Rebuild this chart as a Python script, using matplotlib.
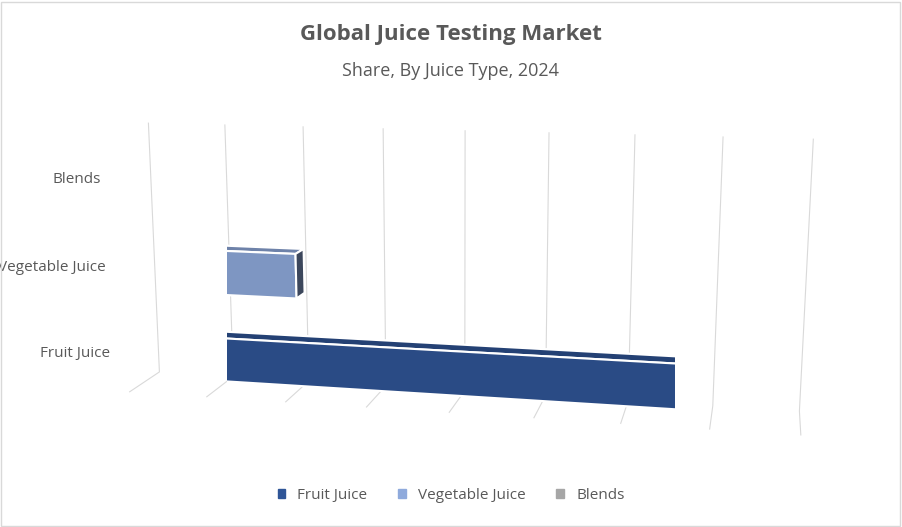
import matplotlib.pyplot as plt
import numpy as np

categories = ["Fruit Juice", "Vegetable Juice", "Blends"]
shares = [61, 19, 10]
colors = ["#2f5597", "#8faadc", "#a6a6a6"]

plt.rcParams["font.family"] = ["Open Sans", "DejaVu Sans"]
fig = plt.figure(figsize=(9.02, 5.27), dpi=100)
fig.patches.append(plt.Rectangle((0.001, 0.002), 0.997, 0.995, transform=fig.transFigure,
                                 fill=False, edgecolor="#d9d9d9", linewidth=1))
fig.text(0.5, 0.925, "Global Juice Testing Market", ha="center", fontsize=16,
         fontweight="bold", color="#595959")
fig.text(0.5, 0.855, "Share, By Juice Type, 2024", ha="center", fontsize=13, color="#595959")

ax = fig.add_axes([0.0, 0.05, 1.0, 0.85], projection="3d")
ax.set_proj_type("persp", focal_length=0.6)
for i, (cat, v) in enumerate(zip(categories, shares)):
    ax.bar3d(0, 0, i, v, 2, 0.5, color=colors[i], edgecolor="white",
             linewidth=1.5, shade=True)
    ax.text(-2, 0, i + 0.25, cat, ha="right", va="center", color="#595959", fontsize=11)

ax.set_xlim(0, 70)
ax.set_ylim(0, 6)
ax.set_zlim(-0.2, 2.8)
ax.set_xticks(np.arange(0, 71, 8.75))
ax.set_xticklabels([])
ax.set_yticks([])
ax.set_zticks([])
for a in (ax.xaxis, ax.yaxis, ax.zaxis):
    a.set_pane_color((1, 1, 1, 0))
    a.line.set_color((1, 1, 1, 0))
    a._axinfo["grid"]["color"] = "#d9d9d9"
    a._axinfo["tick"]["inward_factor"] = 0
    a._axinfo["tick"]["outward_factor"] = 0
ax.zaxis._axinfo["grid"]["color"] = (1, 1, 1, 0)
ax.yaxis._axinfo["grid"]["color"] = (1, 1, 1, 0)
ax.view_init(elev=12, azim=-78)
ax.set_box_aspect((7, 0.8, 2.8), zoom=1.6)

handles = [plt.Rectangle((0, 0), 1, 1, color=c) for c in colors]
fig.legend(handles, categories, loc="lower center", ncol=3, frameon=False,
           fontsize=11, handlelength=0.5, handleheight=0.5, labelcolor="#595959",
           bbox_to_anchor=(0.5, 0.02))
fig.savefig("out.png", dpi=100)
